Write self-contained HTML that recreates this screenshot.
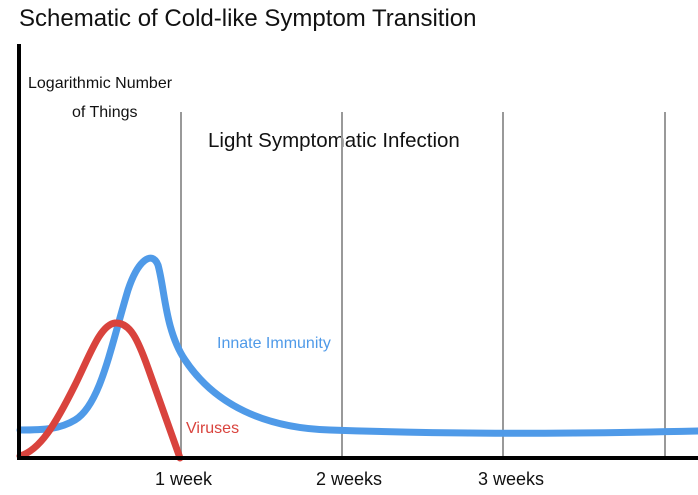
<!DOCTYPE html>
<html><head><style>
body{margin:0;background:#fff;}
svg{display:block;font-family:"Liberation Sans",sans-serif;}
</style></head><body>
<svg width="698" height="495" viewBox="0 0 698 495">
<rect width="698" height="495" fill="#fff"/>
<text x="19" y="26" font-size="24" fill="#111">Schematic of Cold-like Symptom Transition</text>
<text x="28" y="88" font-size="16" fill="#111">Logarithmic Number</text>
<text x="72" y="117" font-size="16" fill="#111">of Things</text>
<text x="208" y="147" font-size="20.5" fill="#111">Light Symptomatic Infection</text>
<g stroke="#999" stroke-width="2">
<line x1="181" y1="112" x2="181" y2="458"/>
<line x1="342" y1="112" x2="342" y2="458"/>
<line x1="503" y1="112" x2="503" y2="458"/>
<line x1="665" y1="112" x2="665" y2="458"/>
</g>
<path d="M20,430 C45,430 60,429 75,420 C100,405 110,350 128,290 C138,260 152,250 158,265 C165,290 165,330 185,360 C215,405 265,428 330,430 C420,433 520,435 698,431" fill="none" stroke="#4f9ae8" stroke-width="7" stroke-linecap="round"/>
<path d="M20,456 C40,450 55,425 75,385 C90,355 100,325 115,323 C130,322 138,340 148,368 L180,458" fill="none" stroke="#d9433d" stroke-width="7" stroke-linecap="round"/>
<line x1="19" y1="44" x2="19" y2="460" stroke="#000" stroke-width="4"/>
<line x1="17" y1="458" x2="698" y2="458" stroke="#000" stroke-width="4"/>
<text x="217" y="348" font-size="16" fill="#4f9ae8">Innate Immunity</text>
<text x="186" y="433" font-size="16" fill="#d9433d">Viruses</text>
<text x="155" y="485" font-size="18" fill="#111">1 week</text>
<text x="316" y="485" font-size="18" fill="#111">2 weeks</text>
<text x="478" y="485" font-size="18" fill="#111">3 weeks</text>
</svg>
</body></html>
